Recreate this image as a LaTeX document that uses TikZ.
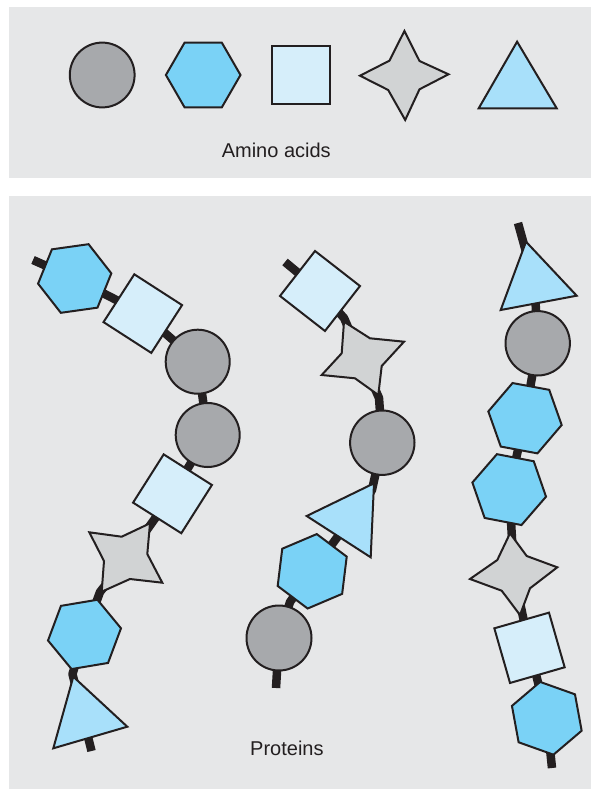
\documentclass[tikz,border=0pt]{standalone}
\usepackage{fontspec}
\setmainfont{Liberation Sans}
\definecolor{ink}{RGB}{35,31,32}
\definecolor{panel}{RGB}{230,231,232}
\definecolor{hexfill}{RGB}{122,210,246}
\definecolor{sqfill}{RGB}{214,238,250}
\definecolor{trifill}{RGB}{168,224,250}
\definecolor{circfill}{RGB}{167,169,172}
\definecolor{starfill}{RGB}{209,211,212}
\newcommand\HexAt[3]{\path[hexs,shift={(#1)}] (#3:#2) -- (#3+60:#2) -- (#3+120:#2) -- (#3+180:#2) -- (#3+240:#2) -- (#3+300:#2) -- cycle;}
\newcommand\SqAt[3]{\path[sqs,shift={(#1)}] (#3:#2) -- (#3+90:#2) -- (#3+180:#2) -- (#3+270:#2) -- cycle;}
\newcommand\CircAt[2]{\path[circs] (#1) circle[radius=#2];}
\begin{document}
\begin{tikzpicture}[x=1pt,y=-1pt]
\tikzset{
  outl/.style={draw=ink, line width=2pt, line join=miter},
  hexs/.style={outl, fill=hexfill},
  sqs/.style={outl, fill=sqfill},
  tris/.style={outl, fill=trifill},
  circs/.style={outl, fill=circfill},
  stars/.style={outl, fill=starfill},
  bond/.style={draw=ink, line width=8.5pt, line join=round},
  lbl/.style={font=\fontsize{20}{24}\selectfont, text=ink, anchor=base west, inner sep=0pt}
}
\useasboundingbox (0,0) rectangle (591,790);
% panels
\fill[panel] (8.5,7) rectangle (591,177.7);
\fill[panel] (8.5,195.7) rectangle (591,789.3);

% ---------- top row: amino acids ----------
\coordinate (ac) at (102.2,75);
\coordinate (ah) at (203.2,75);
\coordinate (aq) at (301,75);
\CircAt{ac}{32.4}
\HexAt{ah}{37.3}{0}
\SqAt{aq}{41}{45}
\path[stars] (404.4,31) -- (419.5,61) -- (448.5,74.3) -- (419.5,89.3) -- (405.2,120) -- (388.2,90) -- (360,75.7) -- (389.4,60.7) -- cycle;
\path[tris] (517.1,41.7) -- (556.7,108.3) -- (478.7,108.3) -- cycle;
\node[lbl] (amino) at (221.6,157.3) {Amino acids};

% ---------- chain 1 ----------
\coordinate (s1a) at (33,260);
\coordinate (h1) at (74.7,278.5);
\coordinate (q1) at (142.8,313.6);
\coordinate (c1) at (197.7,361.7);
\coordinate (c2) at (207.7,435);
\coordinate (q2) at (172.5,493.8);
\coordinate (st1) at (127,558);
\coordinate (b1a) at (100,592);
\coordinate (h2) at (84.5,634.4);
\coordinate (b1b) at (72.5,674);
\coordinate (s1b) at (91.5,751);
\draw[bond] (s1a) -- (h1) -- (q1) -- (c1) -- (c2) -- (q2) -- (st1) -- (b1a) -- (h2) -- (b1b) -- (s1b);
\HexAt{h1}{37}{-8}
\SqAt{q1}{40.2}{-12.2}
\CircAt{c1}{32}
\CircAt{c2}{32}
\SqAt{q2}{40.4}{-12.6}
\path[stars] (89.3,532.3) -- (121.7,536.7) -- (150,523.3) -- (147.3,554) -- (162.3,582.7) -- (130,579) -- (101.7,591.7) -- (104,561) -- cycle;
\HexAt{h2}{37}{-9.5}
\path[tris] (73.3,676.7) -- (127.3,726.7) -- (53.3,748.3) -- cycle;

% ---------- chain 2 ----------
\coordinate (s2a) at (285,262);
\coordinate (q3) at (320,291);
\coordinate (b2a) at (344,318);
\coordinate (b2b) at (379,398);
\coordinate (c3) at (382.3,442.7);
\coordinate (b2c) at (372,490);
\coordinate (h3) at (312.2,571.3);
\coordinate (b2d) at (290,602);
\coordinate (c4) at (279,638);
\coordinate (s2b) at (276,688);
\draw[bond] (s2a) -- (q3) -- (b2a) -- (b2b) -- (c3) -- (b2c) -- (h3) -- (b2d) -- (c4) -- (s2b);
\SqAt{q3}{40.3}{-7.1}
\path[stars] (344,321.7) -- (370,338.3) -- (404,341.7) -- (381.7,366) -- (378.3,395) -- (355,378.3) -- (321.7,375) -- (341.7,353.3) -- cycle;
\CircAt{c3}{32.2}
\path[tris] (374,483.3) -- (370.7,557.3) -- (306.7,516) -- cycle;
\HexAt{h3}{37.5}{-23}
\CircAt{c4}{32.5}

% ---------- chain 3 ----------
\coordinate (s3a) at (518,223);
\coordinate (t3) at (534.5,282.5);
\coordinate (c5) at (537.7,343.3);
\coordinate (h4) at (525,418.2);
\coordinate (h5) at (509.2,489.6);
\coordinate (st4) at (514,574);
\coordinate (q4) at (529.5,647.8);
\coordinate (h6) at (546.8,718.3);
\coordinate (s3b) at (552,768);
\draw[bond] (s3a) -- (t3) -- (c5) -- (h4) -- (h5) -- (st4) -- (q4) -- (h6) -- (s3b);
\path[tris] (526,241.7) -- (576.7,295.7) -- (500.7,310) -- cycle;
\CircAt{c5}{32.2}
\HexAt{h4}{37.3}{10.5}
\HexAt{h5}{37.5}{10.9}
\path[stars] (510,533.3) -- (526.7,556) -- (557.3,567.3) -- (530,588.3) -- (520,615) -- (501.7,590.7) -- (470,579) -- (497.3,560) -- cycle;
\SqAt{q4}{40.2}{-61}
\HexAt{h6}{37}{19.6}

\node[lbl] (prot) at (250,755) {Proteins};
\end{tikzpicture}
\end{document}
